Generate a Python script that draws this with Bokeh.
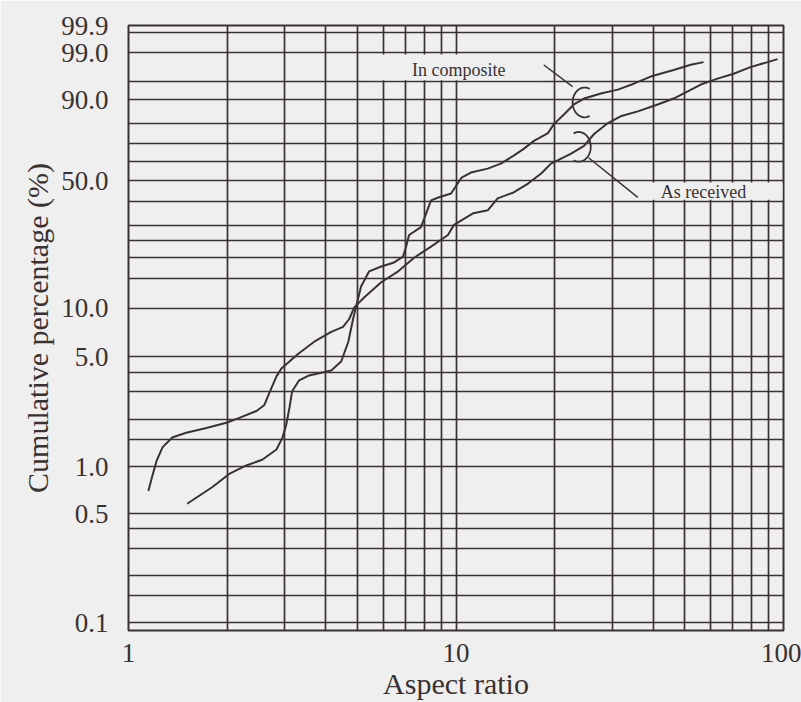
import numpy as np
from bokeh.plotting import figure
from bokeh.models import FixedTicker, Range1d, Label, BoxAnnotation
from bokeh.embed import file_html
from bokeh.resources import INLINE

# ---------------- data ----------------
# "As received" curve: aspect ratio vs cumulative percentage (%)
as_received_ar = [1.15, 1.18, 1.22, 1.27, 1.36, 1.50, 1.73, 1.99, 2.18, 2.46,
                  2.60, 2.69, 2.83, 2.93, 3.30, 3.69, 4.16, 4.52, 4.72, 4.89,
                  5.24, 5.91, 6.66, 7.45, 8.39, 9.45, 9.86, 11.3, 12.5, 13.4,
                  15.0, 16.6, 18.2, 19.5, 22.4, 24.6, 26.4, 29.1, 31.8, 35.9,
                  41.3, 46.2, 51.0, 55.9, 62.9, 70.4, 79.3, 89.4, 95.9]
as_received_pct = [0.70, 0.86, 1.10, 1.33, 1.54, 1.65, 1.77, 1.91, 2.05, 2.27,
                   2.48, 2.95, 3.76, 4.22, 5.22, 6.20, 7.14, 7.66, 8.57, 10.1,
                   11.6, 14.3, 16.6, 19.9, 23.0, 26.7, 30.3, 34.9, 36.1, 41.4,
                   44.2, 48.6, 53.8, 59.1, 64.4, 68.7, 75.0, 80.4, 83.5, 85.6,
                   88.3, 90.4, 92.6, 94.4, 95.7, 96.6, 97.6, 98.2, 98.5]

# "In composite" curve
in_composite_ar = [1.51, 1.80, 2.03, 2.29, 2.56, 2.83, 2.95, 3.03, 3.10, 3.16,
                   3.32, 3.56, 4.16, 4.46, 4.69, 4.85, 4.96, 5.13, 5.43, 5.91,
                   6.47, 6.89, 7.04, 7.19, 7.82, 8.39, 8.88, 9.66, 10.4, 11.1,
                   12.5, 13.7, 15.0, 16.1, 17.3, 19.1, 19.9, 21.4, 22.9, 24.6,
                   27.7, 31.2, 34.9, 39.3, 46.2, 52.1, 57.0]
in_composite_pct = [0.58, 0.74, 0.90, 1.02, 1.11, 1.29, 1.53, 1.85, 2.37, 3.03,
                    3.55, 3.81, 4.10, 4.66, 6.20, 8.57, 10.3, 13.5, 16.6, 17.7,
                    18.7, 20.2, 23.0, 26.7, 29.5, 40.5, 41.9, 43.7, 51.7, 54.3,
                    56.4, 59.1, 63.4, 67.1, 71.4, 75.5, 79.9, 84.4, 88.3, 90.4,
                    92.0, 93.1, 94.6, 96.1, 97.2, 97.9, 98.2]

# axis ticks / grid
x_tick_values = [1, 10, 100]
x_tick_labels = ["1", "10", "100"]
x_grid_values = [1, 2, 3, 4, 5, 6, 7, 8, 9, 10, 20, 30, 40, 50, 60, 70, 80, 90, 100]

y_tick_pct = [0.1, 0.5, 1.0, 5.0, 10.0, 50.0, 90.0, 99.0, 99.9]
y_tick_labels = ["0.1", "0.5", "1.0", "5.0", "10.0", "50.0", "90.0", "99.0", "99.9"]
y_grid_pct = [0.1, 0.15, 0.2, 0.3, 0.4, 0.5, 1, 1.5, 2, 3, 4, 5, 10, 15, 20, 25,
              30, 40, 50, 60, 70, 80, 90, 95, 99, 99.8, 99.9]


# Weibull probability scale: ln(-ln(1 - F))
def weib(pct):
    f = np.asarray(pct, dtype=float) / 100.0
    return np.log(-np.log(1.0 - f))


FONT = "Liberation Serif"
INK = "#3a3232"
BG = "#efefef"

p = figure(width=801, height=702, x_axis_type="log",
           x_range=Range1d(1, 100),
           y_range=Range1d(float(weib(0.089)), float(weib(99.9))),
           output_backend="svg", toolbar_location=None,
           min_border_left=128, min_border_right=18,
           min_border_top=25, min_border_bottom=67)

p.background_fill_color = BG
p.border_fill_color = BG
p.outline_line_color = INK
p.outline_line_width = 2

# grid
p.xgrid.ticker = FixedTicker(ticks=x_grid_values)
p.ygrid.ticker = FixedTicker(ticks=[float(v) for v in weib(y_grid_pct)])
for g in (p.xgrid, p.ygrid):
    g.grid_line_color = INK
    g.grid_line_width = 1.7
    g.grid_line_alpha = 1.0

# x axis
p.xaxis.ticker = FixedTicker(ticks=x_tick_values)
p.xaxis.major_label_overrides = {v: s for v, s in zip(x_tick_values, x_tick_labels)}
p.xaxis.axis_label = "Aspect ratio"

# y axis
y_tick_w = [float(v) for v in weib(y_tick_pct)]
p.yaxis.ticker = FixedTicker(ticks=y_tick_w)
p.yaxis.major_label_overrides = {v: s for v, s in zip(y_tick_w, y_tick_labels)}
p.yaxis.axis_label = "Cumulative percentage (%)"

for ax in (p.xaxis, p.yaxis):
    ax.axis_line_color = None
    ax.major_tick_line_color = None
    ax.minor_tick_line_color = None
    ax.major_tick_out = 0
    ax.major_tick_in = 0
    ax.major_label_text_font = FONT
    ax.major_label_text_font_size = "27px"
    ax.major_label_text_color = INK
    ax.axis_label_text_font = FONT
    ax.axis_label_text_font_size = "30px"
    ax.axis_label_text_font_style = "normal"
    ax.axis_label_text_color = INK

p.xaxis.major_label_standoff = 13
p.xaxis.axis_label_standoff = 2
p.yaxis.major_label_standoff = 20
p.yaxis.axis_label_standoff = 4

# curves
p.line(as_received_ar, weib(as_received_pct), line_color=INK, line_width=2)
p.line(in_composite_ar, weib(in_composite_pct), line_color=INK, line_width=2)

# label boxes covering the grid
eps = 0.025
p.add_layout(BoxAnnotation(left=5.5, right=18.5,
                           bottom=float(weib(95)) + eps, top=float(weib(99)) - eps,
                           fill_color=BG, fill_alpha=1.0, line_color=None))
p.add_layout(BoxAnnotation(left=36.6, right=99.3,
                           bottom=float(weib(40)) + eps, top=float(weib(50)) - eps,
                           fill_color=BG, fill_alpha=1.0, line_color=None))

p.add_layout(Label(x=10.2, y=float(weib(97.2)), text="In composite",
                   text_align="center", text_baseline="middle",
                   text_font=FONT, text_font_size="18px", text_color=INK))
p.add_layout(Label(x=57.0, y=float(weib(44.2)), text="As received",
                   text_align="center", text_baseline="middle",
                   text_font=FONT, text_font_size="18px", text_color=INK))

# leader lines
p.line([18.5, 22.7], weib([97.9, 93.9]), line_color=INK, line_width=1.5)
p.line([25.4, 35.9], weib([62.3, 41.9]), line_color=INK, line_width=1.5)

# bracket marks (small elliptical arcs in screen-proportional units)
a_dec = 12.0 / 327.0
b_w = 15.0 / 68.2


def bracket(xc, pc, t0, t1):
    t = np.radians(np.linspace(t0, t1, 40))
    lx = np.log10(xc) + a_dec * np.cos(t)
    w = float(weib(pc)) + b_w * np.sin(t)
    return 10 ** lx, w


bx, by = bracket(24.7, 89.05, 65, 295)
p.line(bx, by, line_color=INK, line_width=1.8)
bx, by = bracket(23.7, 68.2, -115, 115)
p.line(bx, by, line_color=INK, line_width=1.8)

open("out.html", "w").write(file_html(p, INLINE))
